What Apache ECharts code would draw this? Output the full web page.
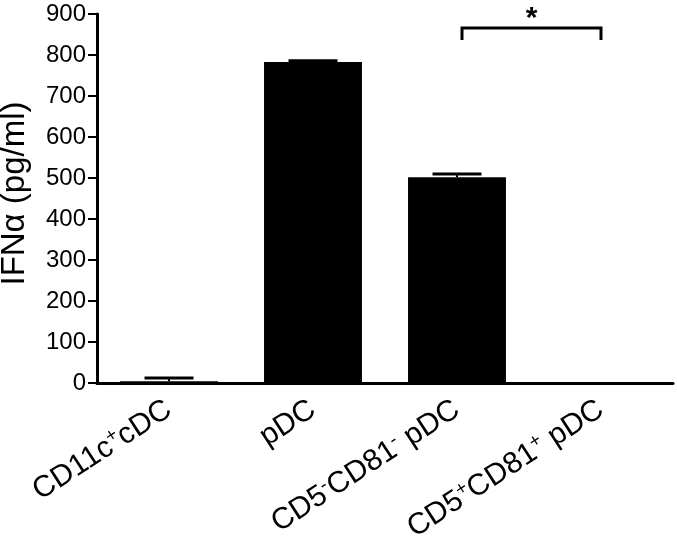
<!DOCTYPE html>
<html>
<head>
<meta charset="utf-8">
<script src="https://cdn.jsdelivr.net/npm/echarts@6/dist/echarts.min.js"></script>
<style>
  html, body {margin: 0; padding: 0; background: #fff;}
  #chart {width: 677px; height: 540px;}
</style>
</head>
<body>
<div id="chart"></div>
<script>
// categories (rich text markup for the superscripts)
const categories = ['CD11c{sup|+}cDC', 'pDC', 'CD5{sup|-}CD81{sup|-} pDC', 'CD5{sup|+}CD81{sup|+} pDC'];
const means = [4, 783, 502, 0];       // IFNα pg/ml
const errors = [8, 3, 8, 0];          // upper error (SEM)
const yTicks = [0, 900, 100];         // min, max, interval
// significance bracket: [from category, to category, bracket level, label]
const sigPairs = [[2, 3, 866, '*']];

const FONT = 'Liberation Sans, Arial, sans-serif';
const chart = echarts.init(document.getElementById('chart'));

const option = {
    animation: false,
    grid: {left: 97, right: 4, top: 14, bottom: 157, outerBoundsMode: 'none'},
    xAxis: {
        type: 'category',
        data: categories,
        axisLine: {lineStyle: {color: '#000', width: 3}},
        axisTick: {alignWithLabel: true, length: 10, lineStyle: {color: '#000', width: 3}},
        axisLabel: {
            rotate: 33,
            margin: 24,
            color: '#000',
            fontFamily: FONT,
            fontSize: 30,
            rich: {
                sup: {fontSize: 19, fontFamily: FONT, color: '#000', verticalAlign: 'top', padding: [0, 0, 14, 0]}
            }
        }
    },
    yAxis: {
        type: 'value',
        min: yTicks[0],
        max: yTicks[1],
        interval: yTicks[2],
        name: 'IFNα (pg/ml)',
        nameLocation: 'middle',
        nameGap: 66,
        nameTextStyle: {color: '#000', fontFamily: FONT, fontSize: 33, padding: [0, 0, 0, 10]},
        splitLine: {show: false},
        axisLine: {show: true, lineStyle: {color: '#000', width: 3}},
        axisTick: {show: true, length: 9, lineStyle: {color: '#000', width: 2}},
        axisLabel: {color: '#000', fontFamily: FONT, fontSize: 24, margin: 11}
    },
    series: [
        {
            type: 'bar',
            data: means,
            barWidth: '68%',
            itemStyle: {color: '#000'}
        },
        {
            // upper error bars
            type: 'custom',
            data: means.map((m, i) => [i, m, m + errors[i]]),
            z: 5,
            renderItem: (params, api) => {
                const i = api.value(0);
                if (!api.value(2) || api.value(2) === api.value(1)) return;
                const base = api.coord([i, api.value(1)]);
                const top = api.coord([i, api.value(2)]);
                const half = api.size([1, 0])[0] * 0.17;
                return {
                    type: 'group',
                    children: [
                        {type: 'line', shape: {x1: base[0], y1: base[1], x2: top[0], y2: top[1]}, style: {stroke: '#000', lineWidth: 2}},
                        {type: 'line', shape: {x1: top[0] - half, y1: top[1], x2: top[0] + half, y2: top[1]}, style: {stroke: '#000', lineWidth: 3}}
                    ]
                };
            }
        },
        {
            // significance bracket
            type: 'custom',
            clip: false,
            data: sigPairs,
            z: 6,
            renderItem: (params, api) => {
                const a = api.coord([api.value(0), api.value(2)]);
                const b = api.coord([api.value(1), api.value(2)]);
                const leg = 12;
                return {
                    type: 'group',
                    children: [
                        {type: 'polyline', shape: {points: [[a[0] + 5, a[1] + leg], [a[0] + 5, a[1]], [b[0], b[1]], [b[0], b[1] + leg]]},
                            style: {stroke: '#000', lineWidth: 3, fill: null}},
                        {type: 'text', style: {text: sigPairs[params.dataIndex][3], x: (a[0] + 5 + b[0]) / 2, y: a[1] + 6,
                            align: 'center', verticalAlign: 'bottom', fontSize: 30, fontWeight: 'bold', fontFamily: FONT, fill: '#000'}}
                    ]
                };
            }
        }
    ]
};
chart.setOption(option);
</script>
</body>
</html>
